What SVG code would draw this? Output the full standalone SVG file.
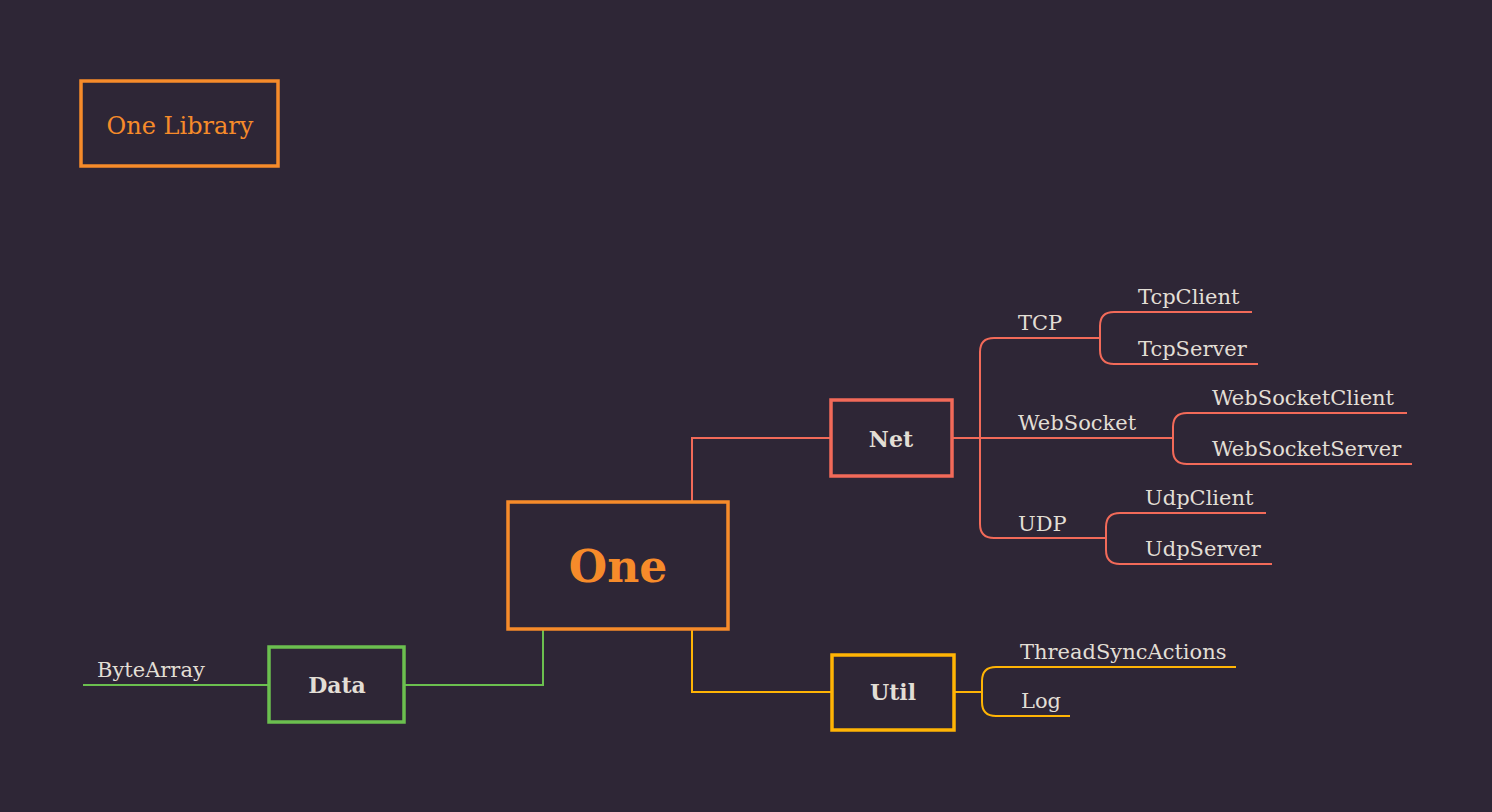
<svg xmlns="http://www.w3.org/2000/svg" width="1492" height="812" viewBox="0 0 1492 812">
<style>
.bg{fill:#2E2636}
.box{fill:#2E2636;stroke-width:3.5}
.lbl{font-family:"DejaVu Serif","Liberation Serif",serif;font-size:21px;fill:#E2DED5}
.bold{font-family:"DejaVu Serif","Liberation Serif",serif;font-weight:bold;fill:#E2DED5;text-anchor:middle}
.ln{fill:none;stroke-width:2}
.or{stroke:#F68B2A}.rd{stroke:#F26A59}.gr{stroke:#6BBF4F}.yl{stroke:#FFB405}
</style>
<rect class="bg" x="0" y="0" width="1492" height="812"/>
<g id="connectors">
<path class="ln rd" d="M692,502 V438 H831"/>
<path class="ln gr" d="M543,629 V685 H404"/>
<path class="ln yl" d="M692,629 V692 H832"/>
<path class="ln gr" d="M269,685 H83"/>
<path class="ln rd" d="M952,438 H1173"/>
<path class="ln rd" d="M1100,338 H994 Q980,338 980,352 V524 Q980,538 994,538 H1106"/>
<path class="ln rd" d="M1252,312 H1114 Q1100,312 1100,326 V350 Q1100,364 1114,364 H1258"/>
<path class="ln rd" d="M1407,413 H1187 Q1173,413 1173,427 V450 Q1173,464 1187,464 H1412"/>
<path class="ln rd" d="M1266,513 H1120 Q1106,513 1106,527 V550 Q1106,564 1120,564 H1272"/>
<path class="ln yl" d="M954,692 H982"/>
<path class="ln yl" d="M1236,667 H996 Q982,667 982,681 V702 Q982,716 996,716 H1070"/>
</g>
<g id="title">
<rect class="box or" x="81" y="81" width="197" height="85"/>
<text x="180" y="134" font-family="DejaVu Serif, Liberation Serif, serif" font-size="24" fill="#F68B2A" text-anchor="middle">One Library</text>
</g>
<g id="one">
<rect class="box or" x="508" y="502" width="220" height="127"/>
<text class="bold" x="618" y="582" font-size="44" style="fill:#F68B2A">One</text>
</g>
<g id="net">
<rect class="box rd" x="831" y="400" width="121" height="76"/>
<text class="bold" x="891" y="447" font-size="22">Net</text>
</g>
<g id="data">
<rect class="box gr" x="269" y="647" width="135" height="75"/>
<text class="bold" x="337" y="693" font-size="22">Data</text>
</g>
<g id="util">
<rect class="box yl" x="832" y="655" width="122" height="75"/>
<text class="bold" x="893" y="700" font-size="22">Util</text>
</g>
<g id="bytearray"><text class="lbl" x="97" y="677">ByteArray</text></g>
<g id="tcp"><text class="lbl" x="1018" y="330">TCP</text></g>
<g id="tcpclient"><text class="lbl" x="1138" y="304">TcpClient</text></g>
<g id="tcpserver"><text class="lbl" x="1138" y="356">TcpServer</text></g>
<g id="websocket"><text class="lbl" x="1018" y="430">WebSocket</text></g>
<g id="websocketclient"><text class="lbl" x="1212" y="405">WebSocketClient</text></g>
<g id="websocketserver"><text class="lbl" x="1212" y="456">WebSocketServer</text></g>
<g id="udp"><text class="lbl" x="1018" y="531">UDP</text></g>
<g id="udpclient"><text class="lbl" x="1145" y="505">UdpClient</text></g>
<g id="udpserver"><text class="lbl" x="1145" y="556">UdpServer</text></g>
<g id="threadsyncactions"><text class="lbl" x="1020" y="659">ThreadSyncActions</text></g>
<g id="log"><text class="lbl" x="1021" y="708">Log</text></g>
</svg>
